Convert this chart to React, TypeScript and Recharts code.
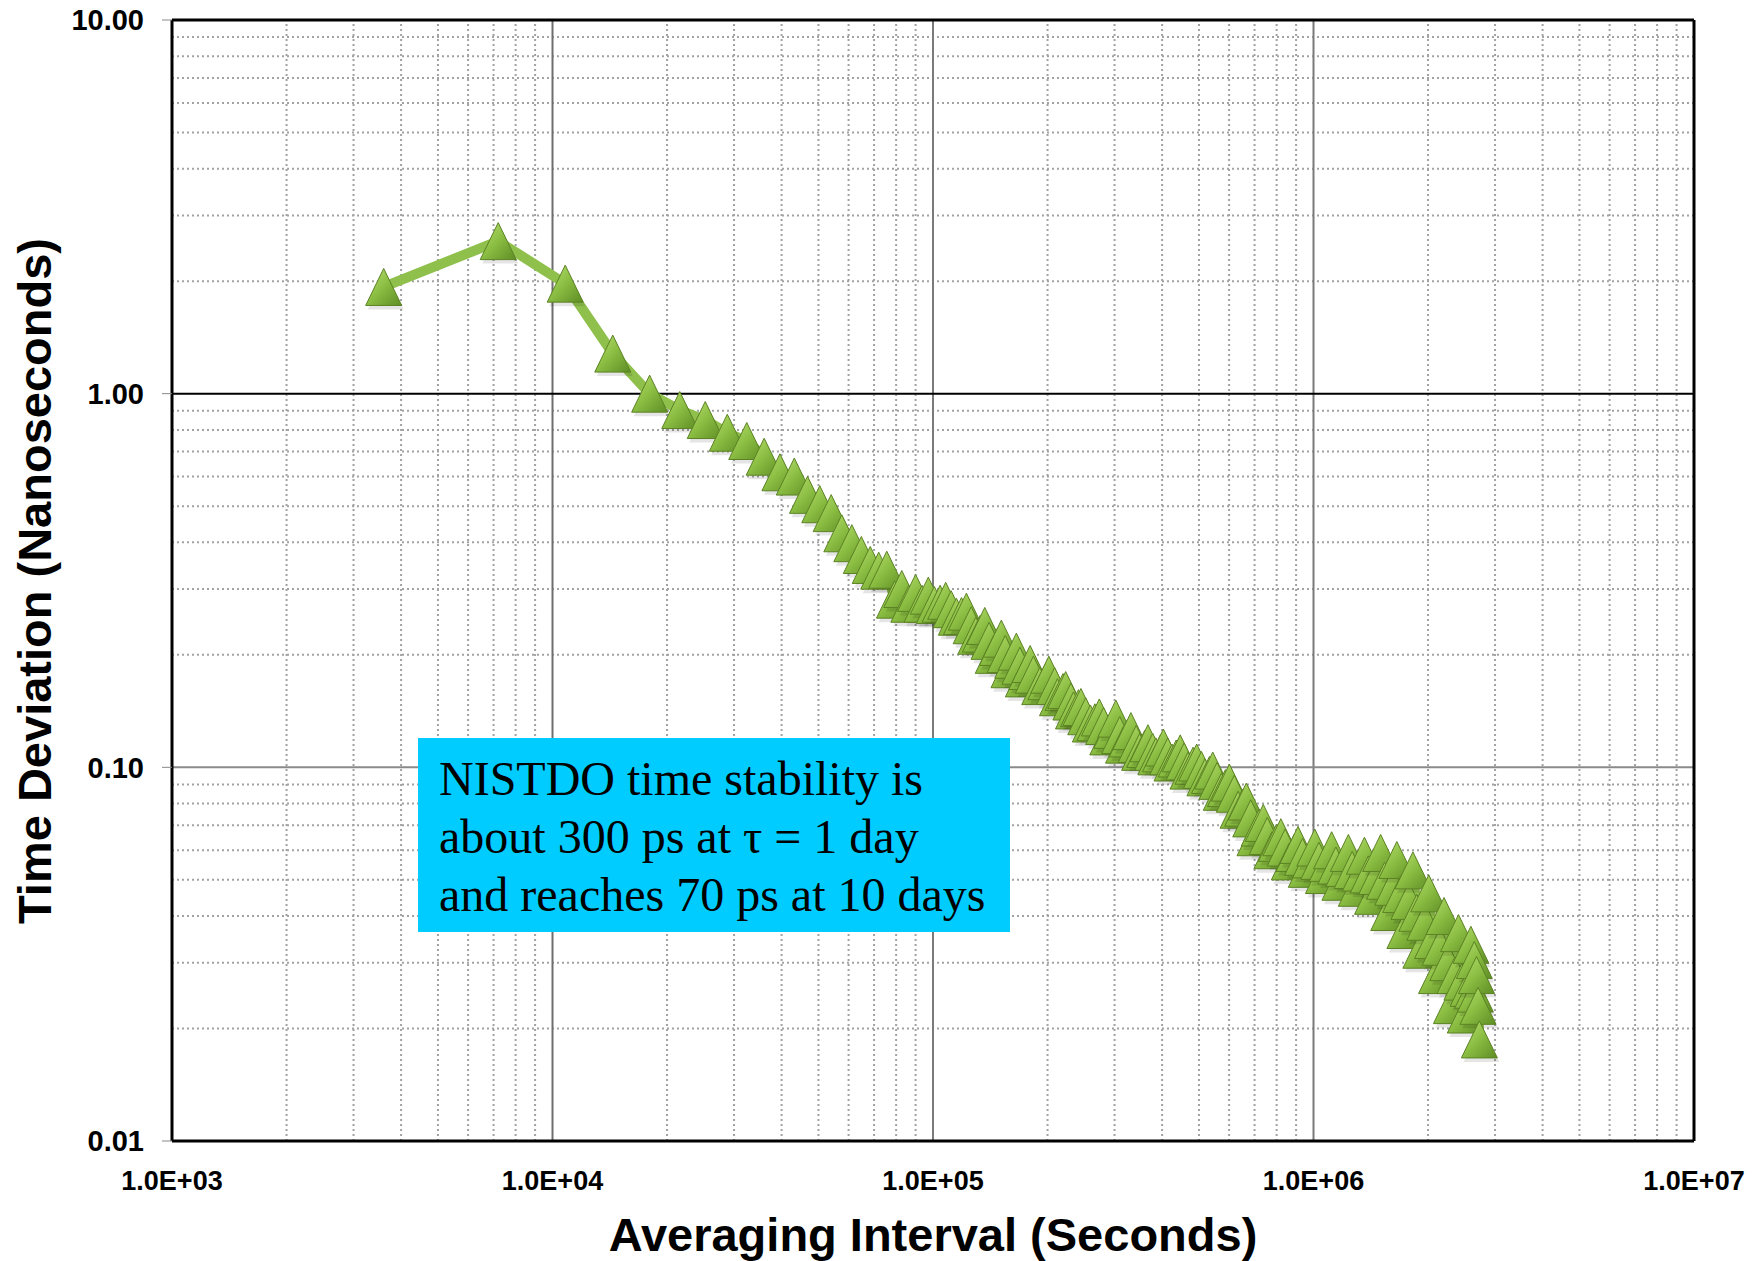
import { LineChart, Line, XAxis, YAxis, ReferenceLine } from 'recharts'

// averaging interval tau (seconds) and time deviation (ns)
const tauSeconds = [
  3600, 7200, 10800, 14400, 18000, 21600, 25200, 28800, 32400, 36000,
  39600, 43200, 46800, 50400, 54000, 57600, 61200, 64800, 68400, 72000,
  75600, 79200, 82800, 86400, 90000, 93600, 97200, 100800, 104400, 108000,
  111600, 115200, 118800, 122400, 126000, 129600, 133200, 136800, 140400, 144000,
  147600, 151200, 154800, 158400, 162000, 165600, 169200, 172800, 176400, 180000,
  183600, 190800, 198000, 201600, 208800, 212400, 219600, 223200, 230400, 234000,
  241200, 244800, 252000, 259200, 266400, 273600, 280800, 288000, 295200, 302400,
  309600, 316800, 324000, 331200, 342000, 349200, 360000, 367200, 378000, 385200,
  396000, 403200, 414000, 424800, 435600, 446400, 457200, 468000, 482400, 493200,
  507600, 518400, 532800, 543600, 558000, 572400, 586800, 601200, 619200, 633600,
  651600, 666000, 684000, 702000, 720000, 738000, 756000, 777600, 799200, 820800,
  842400, 864000, 889200, 910800, 936000, 957600, 982800, 1008000, 1033200, 1062000,
  1087200, 1116000, 1144800, 1173600, 1202400, 1234800, 1263600, 1296000, 1328400, 1360800,
  1393200, 1429200, 1465200, 1501200, 1537200, 1576800, 1616400, 1656000, 1695600, 1738800,
  1782000, 1825200, 1868400, 1915200, 1962000, 2008800, 2055600, 2106000, 2152800, 2203200,
  2253600, 2304000, 2354400, 2404800, 2455200, 2505600, 2548800, 2592000, 2620800, 2646000,
  2664000, 2682000, 2707200, 2728800,
]

const tdevNs = [
  1.93, 2.56, 1.97, 1.28, 1.0, 0.904, 0.85, 0.786, 0.747, 0.678,
  0.616, 0.6, 0.536, 0.506, 0.479, 0.423, 0.398, 0.37, 0.348, 0.336,
  0.338, 0.281, 0.3, 0.274, 0.293, 0.274, 0.288, 0.272, 0.274, 0.279,
  0.265, 0.253, 0.254, 0.261, 0.24, 0.225, 0.228, 0.239, 0.218, 0.2,
  0.21, 0.221, 0.201, 0.183, 0.194, 0.204, 0.187, 0.173, 0.181, 0.189,
  0.177, 0.165, 0.17, 0.177, 0.165, 0.154, 0.159, 0.161, 0.15, 0.142,
  0.144, 0.145, 0.137, 0.131, 0.132, 0.136, 0.129, 0.121, 0.126, 0.135,
  0.122, 0.115, 0.1195, 0.125, 0.1155, 0.11, 0.112, 0.116, 0.11, 0.107,
  0.109, 0.113, 0.107, 0.103, 0.1056, 0.109, 0.1037, 0.098, 0.101, 0.103,
  0.0984, 0.094, 0.0954, 0.098, 0.092, 0.086, 0.088, 0.091, 0.085, 0.077,
  0.078, 0.081, 0.073, 0.065, 0.069, 0.071, 0.0655, 0.06, 0.0628, 0.065,
  0.061, 0.056, 0.059, 0.062, 0.0576, 0.0535, 0.0567, 0.061, 0.0562, 0.0515,
  0.0555, 0.06, 0.0546, 0.0494, 0.0538, 0.059, 0.0531, 0.0476, 0.0523, 0.058,
  0.0517, 0.0453, 0.0512, 0.059, 0.0497, 0.041, 0.0479, 0.0565, 0.0458, 0.0367,
  0.0439, 0.053, 0.0408, 0.0325, 0.0386, 0.046, 0.0345, 0.0278, 0.0331, 0.04,
  0.0301, 0.0231, 0.0278, 0.036, 0.0267, 0.0218, 0.0257, 0.0335, 0.0254, 0.0305,
  0.0248, 0.0278, 0.023, 0.0187,
]

const xTicks = [1e3, 1e4, 1e5, 1e6, 1e7]
const xTickLabels = ['1.0E+03', '1.0E+04', '1.0E+05', '1.0E+06', '1.0E+07']
const yTicks = [0.01, 0.1, 1, 10]
const yTickLabels = ['0.01', '0.10', '1.00', '10.00']

// log grid: minor lines at 2..9 of every decade
const minorSteps = [2, 3, 4, 5, 6, 7, 8, 9]
const xDecades = [1e3, 1e4, 1e5, 1e6]
const yDecades = [0.01, 0.1, 1]
const xMinor = xDecades.flatMap(d => minorSteps.map(m => d * m))
const yMinor = yDecades.flatMap(d => minorSteps.map(m => d * m))

const data = tauSeconds.map((t, i) => ({ tau: t, tdev: tdevNs[i] }))

const fontSans = '"Liberation Sans", Arial, sans-serif'
const xTickFont = { fontSize: 27, fontWeight: 700, fill: '#000', fontFamily: fontSans }
const yTickFont = { fontSize: 29, fontWeight: 700, fill: '#000', fontFamily: fontSans }

function Triangle(props: any) {
  const { cx, cy } = props
  if (cx == null || cy == null) return null
  const h = 18.5
  const w = 18
  return (
    <g>
      <polygon
        points={`${cx + 2},${cy - h + 4} ${cx + w + 2},${cy + h + 4} ${cx - w + 2},${cy + h + 4}`}
        fill="rgba(0,0,0,0.10)"
      />
      <polygon
        points={`${cx},${cy - h} ${cx + w},${cy + h} ${cx - w},${cy + h}`}
        fill="url(#triFill)"
        stroke="#5b8224"
        strokeWidth={1}
      />
    </g>
  )
}

export default function App() {
  return (
    <div style={{ position: 'absolute', left: 0, top: 0, width: 1764, height: 1261, background: '#fff' }}>
      <LineChart width={1764} height={1261} data={data} margin={{ top: 20, right: 70, bottom: 60, left: 0 }}>
        <defs>
          <linearGradient id="triFill" x1="0" y1="0" x2="1" y2="1">
            <stop offset="0%" stopColor="#bde274" />
            <stop offset="50%" stopColor="#8abd42" />
            <stop offset="100%" stopColor="#5e8c24" />
          </linearGradient>
        </defs>
        {xMinor.map(v => (
          <ReferenceLine key={'xm' + v} x={v} stroke="#a2a2a2" strokeWidth={2} strokeDasharray="2 3" zIndex={-50} />
        ))}
        {yMinor.map(v => (
          <ReferenceLine key={'ym' + v} y={v} stroke="#a2a2a2" strokeWidth={2} strokeDasharray="2 3" zIndex={-50} />
        ))}
        <ReferenceLine x={1e4} stroke="#6e6e6e" strokeWidth={2} zIndex={-40} />
        <ReferenceLine x={1e5} stroke="#7a7a7a" strokeWidth={2} zIndex={-40} />
        <ReferenceLine x={1e6} stroke="#7a7a7a" strokeWidth={2} zIndex={-40} />
        <ReferenceLine y={0.1} stroke="#8a8a8a" strokeWidth={2} zIndex={-40} />
        <ReferenceLine y={1} stroke="#000" strokeWidth={2} zIndex={-40} />
        <ReferenceLine y={10} stroke="#000" strokeWidth={3} zIndex={-40} />
        <ReferenceLine x={1e7} stroke="#000" strokeWidth={3} zIndex={-40} />
        <XAxis
          dataKey="tau"
          type="number"
          scale="log"
          domain={[1e3, 1e7]}
          ticks={xTicks}
          interval={0}
          tickFormatter={v => xTickLabels[xTicks.indexOf(v)] ?? ''}
          axisLine={{ stroke: '#000', strokeWidth: 3 }}
          tickLine={false}
          tickSize={0}
          tickMargin={30}
          height={60}
          tick={xTickFont}
        />
        <YAxis
          type="number"
          scale="log"
          domain={[0.01, 10]}
          ticks={yTicks}
          interval={0}
          tickFormatter={v => yTickLabels[yTicks.indexOf(v)] ?? ''}
          axisLine={{ stroke: '#000', strokeWidth: 3 }}
          tickLine={{ stroke: '#888', strokeWidth: 1 }}
          tickSize={10}
          tickMargin={18}
          width={172}
          tick={yTickFont}
        />
        <Line
          type="linear"
          dataKey="tdev"
          stroke="#8fc04c"
          strokeWidth={10}
          strokeLinejoin="round"
          dot={<Triangle />}
          activeDot={false}
          isAnimationActive={false}
        />
      </LineChart>

      <svg width={1764} height={1261} style={{ position: 'absolute', left: 0, top: 0, pointerEvents: 'none' }}>
        <text x={933} y={1251} textAnchor="middle" fontFamily={fontSans} fontWeight={700} fontSize={47} fill="#000">
          Averaging Interval (Seconds)
        </text>
        <text
          transform="translate(51 581) rotate(-90)"
          textAnchor="middle"
          fontFamily={fontSans}
          fontWeight={700}
          fontSize={47}
          fill="#000"
        >
          Time Deviation (Nanoseconds)
        </text>
      </svg>

      {/* annotation box */}
      <div
        style={{
          position: 'absolute',
          left: 418,
          top: 738,
          width: 592,
          height: 194,
          background: '#00ccff',
          boxSizing: 'border-box',
          padding: '12px 0 0 21px',
          fontFamily: '"Liberation Serif", "Times New Roman", serif',
          fontSize: 48,
          lineHeight: '58px',
          color: '#000',
          whiteSpace: 'nowrap',
        }}
      >
        <div>NISTDO time stability is</div>
        <div>about 300 ps at τ = 1 day</div>
        <div>and reaches 70 ps at 10 days</div>
      </div>
    </div>
  )
}
